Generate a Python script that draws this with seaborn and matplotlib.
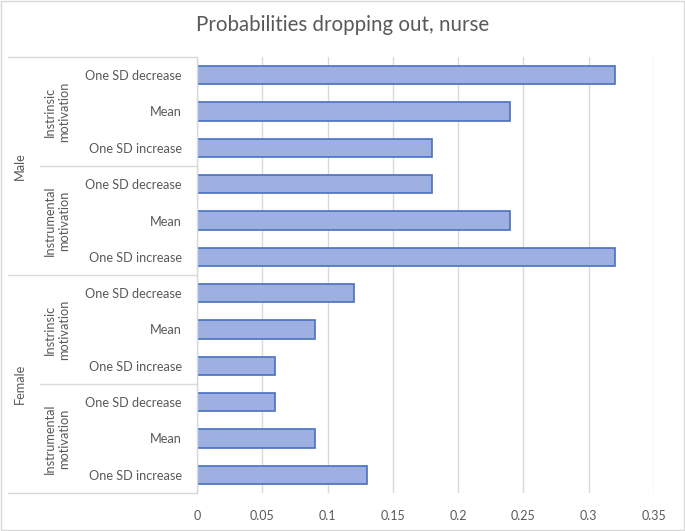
import matplotlib
matplotlib.use("Agg")
import matplotlib.pyplot as plt
import matplotlib.transforms as mtransforms
from matplotlib.patches import Rectangle
import seaborn as sns
import pandas as pd

genders = ["Male", "Female"]
motivations = ["Instrinsic\nmotivation", "Instrumental\nmotivation"]
levels = ["One SD decrease", "Mean", "One SD increase",
          "One SD decrease", "Mean", "One SD increase",
          "One SD decrease", "Mean", "One SD increase",
          "One SD decrease", "Mean", "One SD increase"]
probabilities = [0.32, 0.24, 0.18, 0.18, 0.24, 0.32,
                 0.12, 0.09, 0.06, 0.06, 0.09, 0.13]
x_ticks = [0, 0.05, 0.1, 0.15, 0.2, 0.25, 0.3, 0.35]
x_tick_labels = ["0", "0.05", "0.1", "0.15", "0.2", "0.25", "0.3", "0.35"]

sns.set_theme(style="white")
plt.rcParams['font.family'] = ['Lato', 'DejaVu Sans']

rows = [f"r{i}" for i in range(len(levels))]
df = pd.DataFrame({"row": rows, "p": probabilities})

fig = plt.figure(figsize=(6.85, 5.31), dpi=100)
ax = fig.add_axes([197 / 685, 1 - 493 / 531, (654 - 197) / 685, (493 - 57) / 531])

sns.barplot(data=df, x="p", y="row", orient="h", ax=ax, width=0.5,
            color="#9DB0E1", edgecolor="#4A70C0", linewidth=1.2, saturation=1)

gray = "#595959"
ax.set_xlim(0, 0.35)
ax.set_ylim(11.5, -0.5)
ax.set_xticks(x_ticks)
ax.set_xticklabels(x_tick_labels, color=gray, fontsize=9)
ax.set_yticks(range(len(levels)))
ax.set_yticklabels(levels, color=gray, fontsize=9.2)
ax.tick_params(axis="y", length=0, pad=11)
ax.tick_params(axis="x", length=0, pad=12)
ax.set_xlabel("")
ax.set_ylabel("")
ax.xaxis.grid(True, color="#D9D9D9", linewidth=1)
ax.set_axisbelow(True)
for s in ["top", "right", "bottom"]:
    ax.spines[s].set_visible(False)
ax.spines["left"].set_color("#D9D9D9")
ax.spines["left"].set_linewidth(1)

trans = mtransforms.blended_transform_factory(fig.transFigure, ax.transData)
lc = "#D9D9D9"
for yb, x0 in [(-0.5, 8), (2.5, 40), (5.5, 8), (8.5, 40), (11.5, 8)]:
    ax.plot([x0 / 685, 197 / 685], [yb, yb], transform=trans, color=lc,
            linewidth=1, clip_on=False)

for gi, g in enumerate(genders):
    ax.text(20 / 685, gi * 6 + 2.5, g, transform=trans, rotation=90,
            ha="center", va="center", color=gray, fontsize=9.2)
    for mi, m in enumerate(motivations):
        ax.text(57 / 685, gi * 6 + mi * 3 + 1, m, transform=trans, rotation=90,
                ha="center", va="center", color=gray, fontsize=9.2,
                linespacing=1.15)

fig.text(0.5, 1 - 25 / 531, "Probabilities dropping out, nurse", ha="center",
         va="center", color=gray, fontsize=14.8)

fig.add_artist(Rectangle((0.002, 0.002), 0.996, 0.996, transform=fig.transFigure,
                         fill=False, edgecolor="#D9D9D9", linewidth=1))

fig.savefig("out.png", dpi=100)
